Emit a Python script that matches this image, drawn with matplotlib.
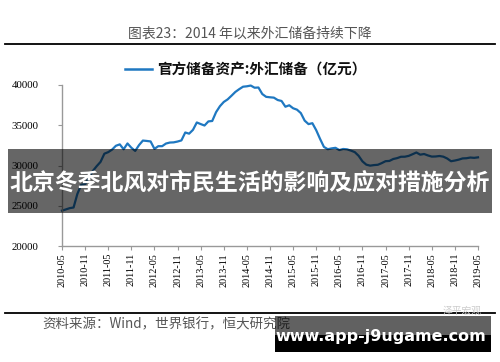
import matplotlib.pyplot as plt
import pandas as pd
from matplotlib.patches import Rectangle

plt.rcParams['font.family'] = ['Noto Sans CJK SC', 'DejaVu Sans']

W, H = 500, 362

# monthly FX reserves, 2010-05 .. 2019-05
months = pd.period_range('2010-05', '2019-05', freq='M').strftime('%Y-%m').tolist()
reserves = [
    24395, 24543, 24703, 24783, 26483, 27608, 27684, 28473,
    29317, 29914, 30447, 31466, 31660, 31975, 32452, 32625, 32017, 32738, 32209, 31812,
    32536, 33097, 33050, 32989, 32061, 32400, 32400, 32729, 32851, 32874, 32977, 33116,
    34100, 33954, 34426, 35345, 35148, 34967, 35478, 35530, 36627, 37366, 37895, 38213,
    38666, 39137, 39481, 39788, 39839, 39932, 39663, 39688, 38877, 38529, 38473, 38430,
    38134, 38016, 37300, 37481, 37111, 36938, 36513, 35574, 35141, 35255, 34383, 33304,
    32309, 32023, 32126, 32197, 31917, 32052, 32011, 31852, 31664, 31207, 30516, 30105,
    29982, 30051, 30091, 30295, 30536, 30568, 30807, 30915, 31085, 31092, 31193, 31399,
    31615, 31345, 31428, 31249, 31106, 31121, 31179, 31097, 30870, 30531, 30617, 30727,
    30879, 30902, 30988, 30950, 31010,
]
tick_labels = months[::6]
y_ticks = [20000, 25000, 30000, 35000, 40000]

title = '图表23：2014 年以来外汇储备持续下降'
legend_label = '官方储备资产:外汇储备（亿元）'
banner = '北京冬季北风对市民生活的影响及应对措施分析'
source = '资料来源：Wind，世界银行，恒大研究院'
site = 'www.app-j9ugame.com'


def fx(px):
    return px / W


def fy(py):
    return 1 - py / H


fig = plt.figure(figsize=(5, 3.62), dpi=100)
fig.patch.set_facecolor('white')

ax = fig.add_axes([fx(62), fy(246), fx(478) - fx(62), fy(85) - fy(246)])
ax.plot(range(len(months)), reserves, color='#1f78c1', lw=1.6, clip_on=False)
ax.set_xlim(0, len(months) - 1)
ax.set_ylim(20000, 40000)
ax.set_yticks(y_ticks)
ax.set_yticklabels([str(v) for v in y_ticks], fontfamily='Liberation Serif', fontsize=7.8)
ax.set_xticks(range(0, len(months), 6))
ax.set_xticklabels(tick_labels, rotation=90, fontfamily='Liberation Serif', fontsize=7.3)
for s in ['top', 'right']:
    ax.spines[s].set_visible(False)
for s in ['left', 'bottom']:
    ax.spines[s].set_color('#999999')
    ax.spines[s].set_linewidth(1)
ax.tick_params(axis='y', length=3, color='#999999', pad=14, labelcolor='black')
ax.tick_params(axis='x', length=3, color='#999999', pad=2, labelcolor='black')

# title and rules
fig.text(0.5, fy(34), title, ha='center', va='center', fontsize=10, color='#555555')
fig.add_artist(plt.Line2D([fx(5), fx(495)], [fy(44), fy(44)], color='black', lw=1.3))
fig.add_artist(plt.Line2D([fx(5), fx(495)], [fy(313), fy(313)], color='black', lw=1.3))

# legend
fig.add_artist(plt.Line2D([fx(125), fx(152)], [fy(69), fy(69)], color='#1f78c1', lw=1.8))
fig.text(fx(157), fy(69), legend_label, ha='left', va='center', fontsize=10.5,
         weight='bold', color='#111111')

# source
fig.text(fx(42), fy(324), source, ha='left', va='center', fontsize=9.7, color='#555555')
fig.text(fx(482), fy(311), '泽平宏观', ha='right', va='center', fontsize=7, color='#cccccc')

# overlay banner
fig.add_artist(Rectangle((fx(8), fy(213)), fx(492) - fx(8), fy(149) - fy(213),
                         transform=fig.transFigure, facecolor='black', alpha=0.6,
                         edgecolor='none', zorder=5))
fig.text(0.5, fy(183), banner, ha='center', va='center', fontsize=16.5, weight='bold',
         color='white', zorder=6)

# site watermark (translucent top, solid bottom)
fig.add_artist(Rectangle((fx(275), fy(335)), fx(491) - fx(275), fy(316) - fy(335),
                         transform=fig.transFigure, facecolor='black', alpha=0.62,
                         edgecolor='none', zorder=5))
fig.add_artist(Rectangle((fx(275), fy(352)), fx(491) - fx(275), fy(335) - fy(352),
                         transform=fig.transFigure, facecolor='black', edgecolor='none',
                         zorder=5))
fig.text(fx(381), fy(336), site, ha='center', va='center', fontsize=11.5, weight='bold',
         family='DejaVu Sans', color='white', zorder=6)

fig.savefig('out.png', dpi=100)
